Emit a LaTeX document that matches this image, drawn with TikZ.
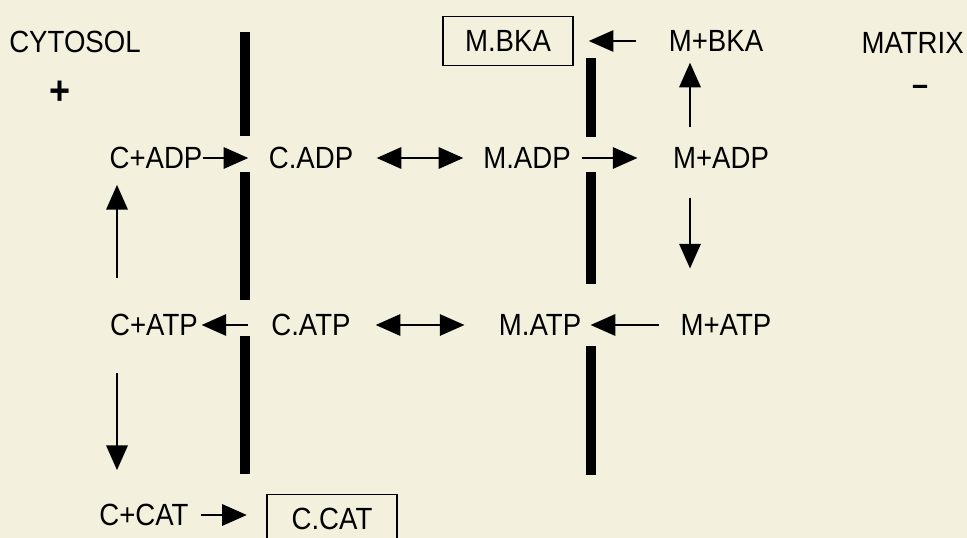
\documentclass[tikz,border=0pt]{standalone}
\usepackage{fontspec}
\setmainfont[FakeStretch=0.9]{Liberation Sans}
\usetikzlibrary{arrows.meta}
\definecolor{paper}{RGB}{243,241,222}
\begin{document}
\begin{tikzpicture}[x=0.75pt, y=-0.75pt, every node/.style={inner sep=0pt, font=\fontsize{23}{23}\selectfont}, >={Triangle[length=18.5pt, width=16pt]},
    arr/.style={->, line width=1.6pt}, membrane/.style={line width=7.5pt}, boxed/.style={draw, line width=1.1pt, minimum width=97.5pt, minimum height=37pt}]
        \useasboundingbox (0,0) rectangle (967,538);
        \fill[paper] (0,0) rectangle (967,538);
        % the two membranes, with their pores
        \draw[membrane] (245,32) -- (245,136) (245,172) -- (245,300) (245,336) -- (245,474);
        \draw[membrane] (591,58) -- (591,137) (591,172) -- (591,284) (591,346) -- (591,475);
        \node (cyto) at (75,42) {CYTOSOL};
        \node[font=\fontsize{30}{30}\selectfont\bfseries] (plus) at (60,93) {+};
        \node[anchor=east] (matrix) at (964,43) {MATRIX};
        \node[font=\fontsize{24}{24}\selectfont\bfseries] (minus) at (920,90) {--};
        \node[boxed] (mbka) at (508,41) {M.BKA};
        \node (mpbka) at (716,41) {M+BKA};
        \node (cpadp) at (156,158) {C+ADP};
        \node (cadp) at (311,158) {C.ADP};
        \node (madp) at (527,158) {M.ADP};
        \node (mpadp) at (721,158) {M+ADP};
        \node (cpatp) at (154,325) {C+ATP};
        \node (catp) at (311,325) {C.ATP};
        \node (matp) at (540,325) {M.ATP};
        \node (mpatp) at (726,325) {M+ATP};
        \node (cpcat) at (144,515) {C+CAT};
        \node[boxed] (ccat) at (332,519) {C.CAT};
        \coordinate (lcol) at (117,0);
        \coordinate (rcol) at (690,0);
        \draw[arr, shorten >=15.2pt] (cpadp) -- (cadp);
        \draw[arr, <->, shorten <=17.4pt, shorten >=14.8pt] (cadp) -- (madp);
        \draw[arr, shorten <=8pt, shorten >=26.5pt] (madp) -- (mpadp);
        \draw[arr, shorten <=24.8pt, shorten >=11.3pt] (mpbka) -- (mbka);
        \draw[arr, shorten <=14.8pt, shorten >=8.1pt] (mpadp.north -| rcol) -- (mpbka.south -| rcol);
        \draw[arr, shorten <=21.6pt, shorten >=34.3pt] (mpadp.south -| rcol) -- (mpatp.north -| rcol);
        \draw[arr, shorten <=16.4pt, shorten >=6.9pt] (mpatp) -- (matp);
        \draw[arr, <->, shorten <=18.6pt, shorten >=25.6pt] (catp) -- (matp);
        \draw[arr, shorten <=17.1pt, shorten >=2.6pt] (catp) -- (cpatp);
        \draw[arr, shorten <=26.8pt, shorten >=11.8pt] (cpatp.north -| lcol) -- (cpadp.south -| lcol);
        \draw[arr, shorten <=27.6pt, shorten >=25.3pt] (cpatp.south -| lcol) -- (cpcat.north -| lcol);
        \draw[arr, shorten <=8.8pt, shorten >=14.6pt] (cpcat.east) -- (cpcat.east -| ccat.west);
\end{tikzpicture}
\end{document}
